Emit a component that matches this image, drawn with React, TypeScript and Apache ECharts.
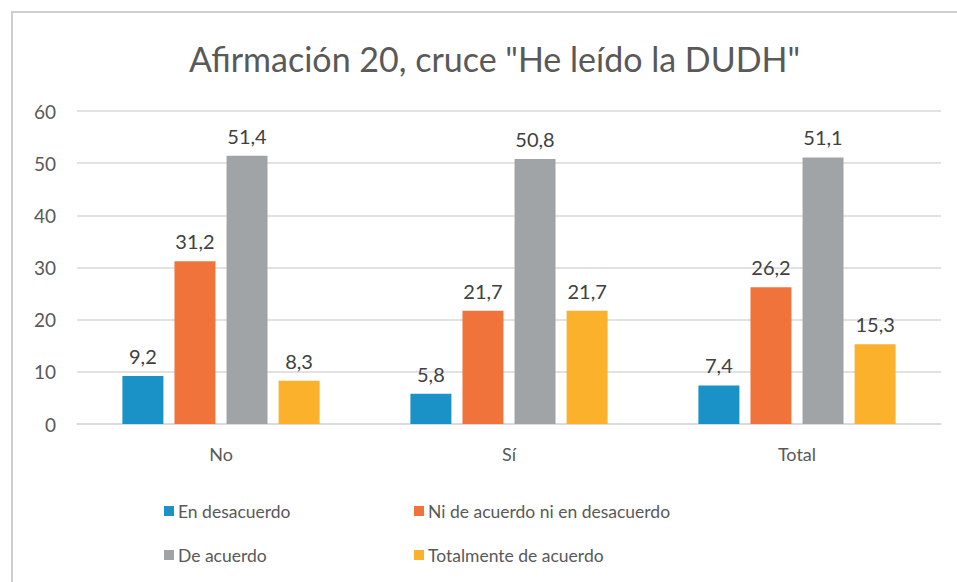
import React, { useEffect, useRef } from "react";
import * as echarts from "echarts";

const categories = ["No", "Sí", "Total"];
const seriesNames = [
  "En desacuerdo",
  "Ni de acuerdo ni en desacuerdo",
  "De acuerdo",
  "Totalmente de acuerdo",
];
const enDesacuerdo = [9.2, 5.8, 7.4];
const niDeAcuerdo = [31.2, 21.7, 26.2];
const deAcuerdo = [51.4, 50.8, 51.1];
const totalmente = [8.3, 21.7, 15.3];
const colors = ["#1A92C8", "#F0733C", "#A0A4A6", "#FBB12B"];
const yTicks = { min: 0, max: 60, interval: 10 };

const FONT = "Lato, 'Open Sans', sans-serif";
const TXT = "#595959";

export default function App() {
  const ref = useRef<HTMLDivElement>(null);
  useEffect(() => {
    if (!ref.current) return;
    const chart = echarts.init(ref.current, undefined, { renderer: "svg" });
    const values = [enDesacuerdo, niDeAcuerdo, deAcuerdo, totalmente];
    const legendPos = [
      { left: 159, top: 497 },
      { left: 409, top: 497 },
      { left: 159, top: 541 },
      { left: 409, top: 541 },
    ];
    chart.setOption({
      animation: false,
      textStyle: { fontFamily: FONT },
      title: {
        text: 'Afirmación 20, cruce "He leído la DUDH"',
        left: 184,
        top: 36,
        textStyle: { fontFamily: FONT, fontSize: 34, fontWeight: "normal", color: TXT },
      },
      graphic: [
        {
          type: "rect",
          shape: { x: 12, y: 12, width: 1000, height: 1000 },
          style: { fill: "none", stroke: "#CFCFCF", lineWidth: 2 },
          silent: true,
        },
      ],
      legend: seriesNames.map((n, i) => ({
        data: [n],
        left: legendPos[i].left,
        top: legendPos[i].top,
        itemWidth: 10,
        itemHeight: 10,
        itemGap: 4,
        icon: "rect",
        selectedMode: false,
        textStyle: { fontFamily: FONT, fontSize: 17.5, color: TXT, padding: [0, 0, 0, -1] },
      })),
      grid: { left: 77, right: 16, top: 111, bottom: 158, containLabel: false },
      xAxis: {
        type: "category",
        data: categories,
        axisLine: { lineStyle: { color: "#D9D9D9", width: 1.5 } },
        axisTick: { show: false },
        axisLabel: { fontFamily: FONT, fontSize: 18, color: TXT, margin: 21 },
      },
      yAxis: {
        type: "value",
        min: yTicks.min,
        max: yTicks.max,
        interval: yTicks.interval,
        axisLine: { show: false },
        axisTick: { show: false },
        splitLine: { lineStyle: { color: "#D9D9D9", width: 1.5 } },
        axisLabel: { fontFamily: FONT, fontSize: 19, color: TXT, margin: 21 },
      },
      series: seriesNames.map((n, i) => ({
        name: n,
        type: "bar",
        data: values[i],
        barWidth: 41,
        barGap: "27%",
        itemStyle: { color: colors[i] },
        label: {
          show: true,
          position: "top",
          distance: 10,
          fontFamily: FONT,
          fontSize: 20,
          color: "#404040",
          formatter: (p: any) => String(p.value).replace(".", ","),
        },
      })),
    });
    return () => chart.dispose();
  }, []);
  return (
    <div
      ref={ref}
      style={{ position: "absolute", left: 0, top: 0, width: 957, height: 582, background: "#fff" }}
    />
  );
}
